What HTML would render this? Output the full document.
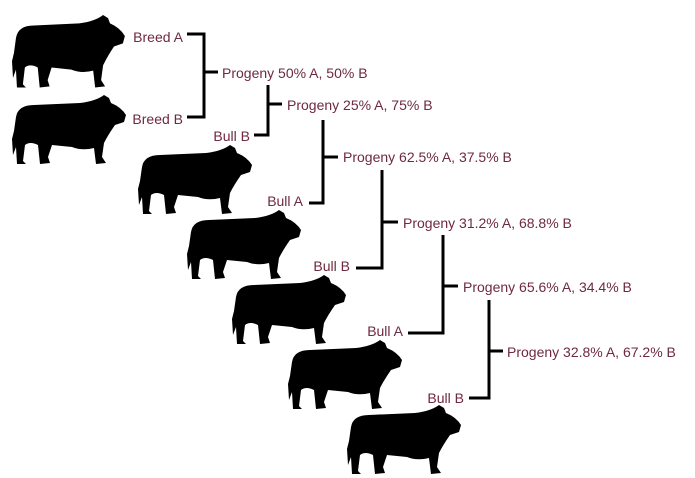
<!DOCTYPE html>
<html><head><meta charset="utf-8"><style>
html,body{margin:0;padding:0;background:#fff;}
svg{display:block}
text{font-family:"Liberation Sans",sans-serif;font-size:14px;fill:#6e2a3e}
</style></head><body>
<svg width="695" height="478" viewBox="0 0 695 478" xmlns="http://www.w3.org/2000/svg">
<defs>
<path id="bull" d="M4,22 Q6,10 22,10 L68,8 Q84,6 92,0 L97,3 L99,8 Q109,12 114,20 L112,27 L103,30 Q96,40 92,48 L90,62 L94,68 L84,69 L82,53 Q70,56 60,52 L40,50 L36,62 L38,68 L28,69 L26,50 Q18,46 13,50 L11,66 L14,69 L5,69 L4,52 L1,60 L0,44 L2,36 Z" fill="#000"/>
</defs>
<use href="#bull" transform="translate(12,15) scale(0.99,1.05)"/>
<use href="#bull" transform="translate(12,95)"/>
<use href="#bull" transform="translate(138,145)"/>
<use href="#bull" transform="translate(187,210)"/>
<use href="#bull" transform="translate(232,275)"/>
<use href="#bull" transform="translate(288,340)"/>
<use href="#bull" transform="translate(347,405)"/>
<g stroke="#000" stroke-width="3" fill="none">
<path d="M187,34 H204 V117 H187 M204,72 H218"/>
<path d="M268,85 V135 H254 M268,104 H282"/>
<path d="M323,120 V203 H309 M323,157 H338"/>
<path d="M382,170 V268 H356 M382,222 H398"/>
<path d="M443,235 V333 H408 M443,286 H458"/>
<path d="M489,300 V398 H469 M489,351 H503"/>
</g>
<text x="183" y="42" text-anchor="end">Breed A</text>
<text x="183" y="124" text-anchor="end">Breed B</text>
<text x="250" y="141" text-anchor="end">Bull B</text>
<text x="303" y="206" text-anchor="end">Bull A</text>
<text x="350" y="271" text-anchor="end">Bull B</text>
<text x="403" y="336" text-anchor="end">Bull A</text>
<text x="464" y="403" text-anchor="end">Bull B</text>
<text x="222" y="78">Progeny 50% A, 50% B</text>
<text x="287" y="110">Progeny 25% A, 75% B</text>
<text x="343" y="162">Progeny 62.5% A, 37.5% B</text>
<text x="403" y="228">Progeny 31.2% A, 68.8% B</text>
<text x="463" y="292">Progeny 65.6% A, 34.4% B</text>
<text x="507" y="357">Progeny 32.8% A, 67.2% B</text>
</svg>
</body></html>
